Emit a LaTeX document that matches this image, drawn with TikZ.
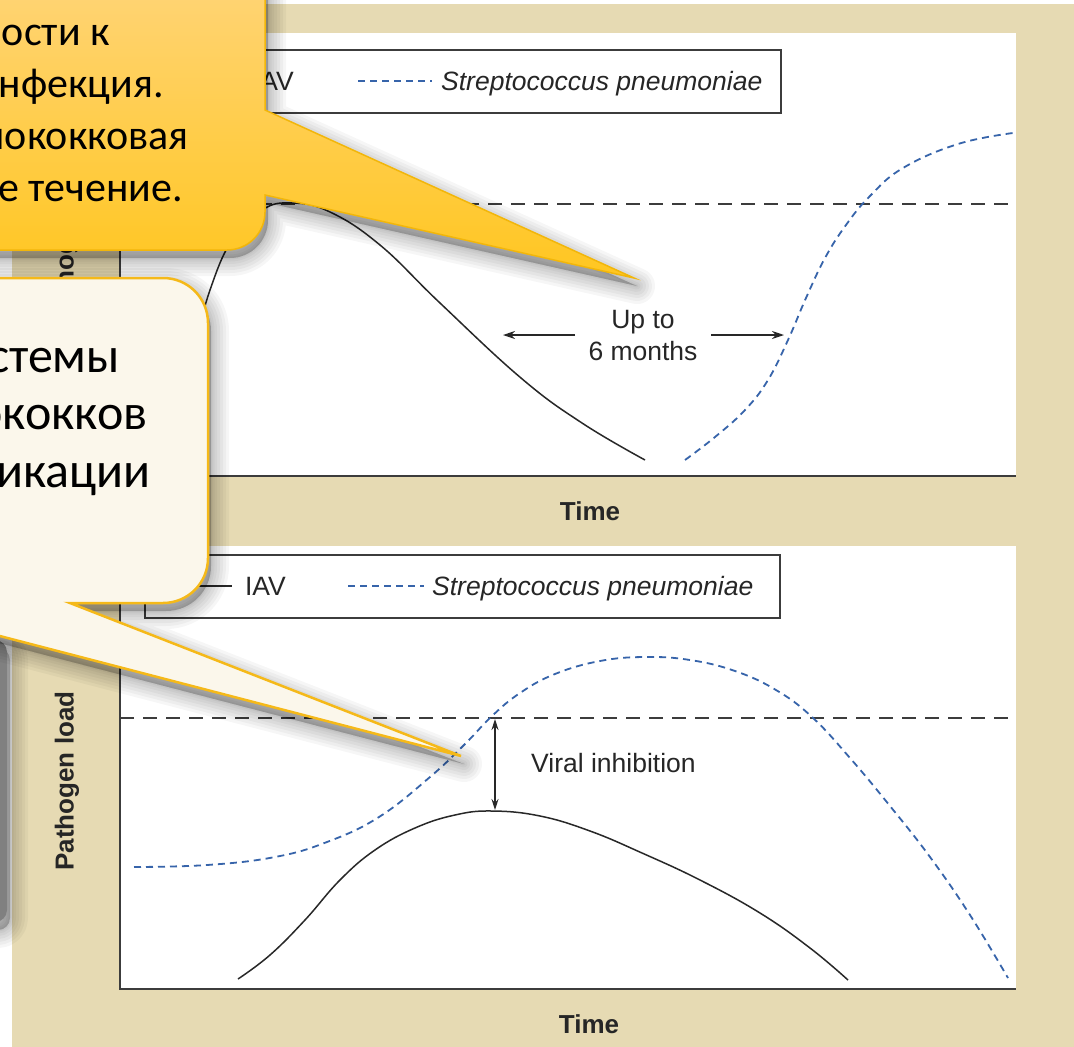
\documentclass[tikz,border=0pt]{standalone}
\usepackage{fontspec}
\setmainfont{Liberation Sans}
\newfontfamily\calloutfont{Carlito}
\usetikzlibrary{arrows.meta}

\definecolor{panelTan}{RGB}{230,218,179}
\definecolor{strepBlue}{RGB}{55,100,170}
\definecolor{curveInk}{RGB}{40,40,40}
\definecolor{axisInk}{RGB}{60,60,60}
\definecolor{noteTop}{RGB}{255,214,130}
\definecolor{noteBottom}{RGB}{255,198,32}
\definecolor{noteEdge}{RGB}{242,182,10}
\definecolor{creamFill}{RGB}{251,247,235}
\definecolor{creamEdge}{RGB}{245,185,25}
\definecolor{sideGray}{RGB}{128,128,128}

\tikzset{
  axisline/.style={draw=axisInk, line width=2pt},
  threshold/.style={draw=axisInk, line width=1.8pt, dash pattern=on 14pt off 9pt},
  iav/.style={draw=curveInk, line width=1.5pt},
  strep/.style={draw=strepBlue, line width=1.8pt, dash pattern=on 7pt off 5pt},
  legendbox/.style={draw=axisInk, line width=2pt, fill=white},
  plotlabel/.style={font=\fontsize{26.5}{32}\selectfont, text=black!85, inner sep=0pt},
  axislabel/.style={font=\fontsize{26}{30}\selectfont\bfseries, text=black!85, inner sep=0pt},
  spanarrow/.style={draw=curveInk, line width=1.4pt, -{Stealth[length=12pt,width=8pt]}},
  botharrow/.style={draw=curveInk, line width=1.4pt, {Stealth[length=11pt,width=7pt]}-{Stealth[length=11pt,width=7pt]}},
  notetext/.style={font=\calloutfont\fontsize{42}{50}\selectfont, anchor=base east, inner sep=0pt},
  cardtext/.style={font=\calloutfont\fontsize{50}{58}\selectfont, anchor=base east, inner sep=0pt},
  shadowlayer/.style={fill=black, draw=black, fill opacity=0.035, draw opacity=0.035,
    line width=#1, line join=round, shift={(3,8)}},
}

% outlines of the three callout shapes (page pixels, y downwards)
\def\notepath{(-40,-60) -- (265,-60) -- (265,110) -- (634,278) -- (265,195) -- (265,212)
    .. controls (265,233) and (248,250) .. (227,250) -- (-40,250) -- cycle}
\def\cardpath{(-300,278) -- (163,278) .. controls (188,278) and (208,298) .. (208,323)
    -- (208,558) .. controls (208,583) and (188,603) .. (163,603)
    -- (70,603) -- (461,756) -- (-127,603) -- (-300,603) -- cycle}
\def\sidepath{[rounded corners=12pt] (-100,640) rectangle (7,922)}

% soft drop shadow built from stacked translucent copies
\newcommand\softshade[1]{%
  \foreach \w in {36pt,30pt,24pt,18pt,12pt,7pt,3pt} {\path[shadowlayer=\w] #1;}}

\begin{document}
\begin{tikzpicture}[x=1pt, y=-1pt]
  \useasboundingbox (0,0) rectangle (1074,1047);
  \clip (0,0) rectangle (1074,1047);

  % page and tan frame
  \fill[white] (0,0) rectangle (1074,1047);
  \fill[panelTan] (12,4) rectangle (1074,1047);

  % ---------- upper panel ----------
  \fill[white] (120,33) rectangle (1016,476);
  \draw[threshold] (120,204) -- (1016,204);
  \draw[iav] plot[smooth, tension=0.7] coordinates {
    (195,345) (210,290) (232,240) (262,210) (292,203) (330,212) (380,245)
    (440,303) (521,378) (582,423) (645,460)};
  \draw[strep] plot[smooth, tension=0.7] coordinates {
    (685,460) (715,437) (745,410) (768,380) (788,340) (806,298) (825,258)
    (846,225) (870,196) (903,168) (958,144) (1013,133)};
  \draw[axisline] (120,33) -- (120,476) -- (1016,476);

  \draw[legendbox] (154,50) rectangle (781,113);
  \draw[iav] (195,81) -- (241,81);
  \node[plotlabel, anchor=base east] (iavA) at (294,90) {IAV};
  \draw[strep] (358,81) -- (432,81);
  \node[plotlabel, anchor=base west] (strepA) at (441,90) {\itshape Streptococcus pneumoniae};

  \node[plotlabel, anchor=base] (upto) at (643,328) {Up to};
  \node[plotlabel, anchor=base] (months) at (643,360) {6 months};
  \coordinate (iavFall) at (503,335);
  \coordinate (strepRise) at (784,335);
  \draw[spanarrow] (575,335) -- (iavFall);
  \draw[spanarrow] (711,335) -- (strepRise);

  \node[axislabel, anchor=base] (timeA) at (590,520) {Time};
  \node[axislabel, rotate=90] (loadA) at (67,237) {Pathogen load};

  % ---------- lower panel ----------
  \fill[white] (120,546) rectangle (1016,989);
  \draw[threshold] (120,718) -- (1016,718);
  \draw[strep] plot[smooth, tension=0.7] coordinates {
    (134,867) (207,865) (275,857) (327,842) (379,817) (430,777) (465,744)
    (492,716) (520,693) (555,674) (600,661) (645,657) (690,660) (735,671)
    (776,690) (812,717) (850,758) (890,806) (930,857) (970,915) (1008,978)};
  \draw[iav] plot[smooth, tension=0.7] coordinates {
    (238,979) (270,955) (305,920) (340,880) (375,850) (415,828) (455,815)
    (492,811) (540,816) (590,831) (642,853) (700,880) (760,913) (810,948) (848,980)};
  \draw[axisline] (120,546) -- (120,989) -- (1016,989);

  \draw[legendbox] (145,555) rectangle (780,618);
  \draw[iav] (186,586) -- (232,586);
  \node[plotlabel, anchor=base east] (iavB) at (286,595) {IAV};
  \draw[strep] (348,586) -- (424,586);
  \node[plotlabel, anchor=base west] (strepB) at (432,595) {\itshape Streptococcus pneumoniae};

  \coordinate (thrB) at (495,719);
  \coordinate (peakB) at (495,810);
  \draw[botharrow] (thrB) -- (peakB);
  \node[plotlabel, anchor=base west] (inhib) at (531,772) {Viral inhibition};

  \node[axislabel, anchor=base] (timeB) at (589,1033) {Time};
  \node[axislabel, rotate=90] (loadB) at (67,781) {Pathogen load};

  % ---------- callouts ----------
  \softshade{\sidepath}
  \path[fill=sideGray] \sidepath;

  \softshade{\notepath}
  \path[top color=noteTop, bottom color=noteBottom, draw=noteEdge, line width=1.5pt] \notepath;
  \node[notetext, anchor=base west] (noteL0) at (100,-7) {р};
  \node[notetext] (noteL1) at (110,45) {ости к};
  \node[notetext] (noteL2) at (164,97) {нфекция.};
  \node[notetext] (noteL3) at (189,149) {мококковая};
  \node[notetext] (noteL4) at (183,201) {е течение.};

  \softshade{\cardpath}
  \path[fill=creamFill, draw=creamEdge, line width=2.5pt] \cardpath;
  \node[cardtext] (cardL1) at (120,372) {стемы};
  \node[cardtext] (cardL2) at (148,429) {ококков};
  \node[cardtext] (cardL3) at (151,487) {никации};
\end{tikzpicture}
\end{document}
